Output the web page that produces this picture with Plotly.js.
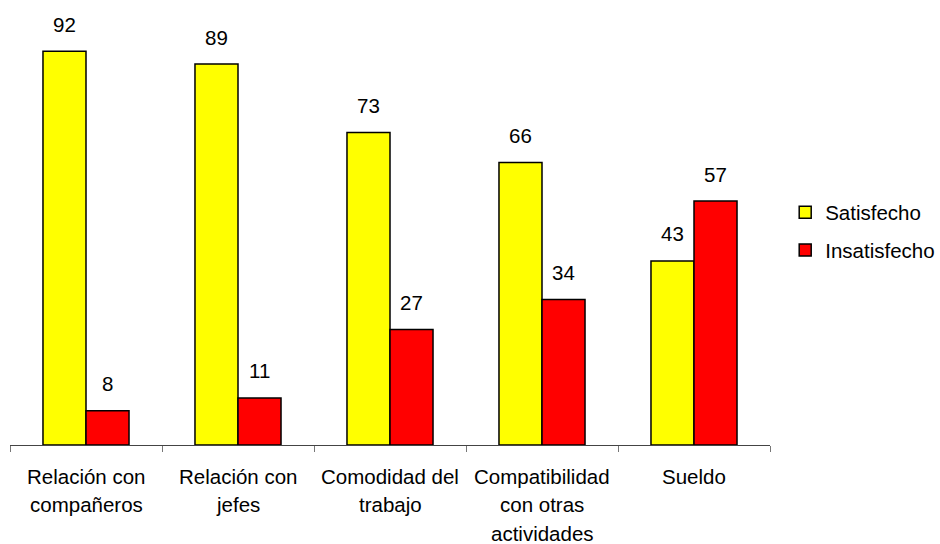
<!DOCTYPE html>
<html>
<head>
<meta charset="utf-8">
<script src="https://cdn.plot.ly/plotly-3.0.1.min.js"></script>
<style>
  html, body { margin: 0; padding: 0; background: #fff; }
  #chart { width: 940px; height: 544px; }
</style>
</head>
<body>
<div id="chart"></div>
<script>
// Satisfaction by job aspect (percent)
const categories = [
  "Relación con compañeros",
  "Relación con jefes",
  "Comodidad del trabajo",
  "Compatibilidad con otras actividades",
  "Sueldo"
];
// Category labels split into the lines they are printed on
const categoryLines = [
  ["Relación con", "compañeros"],
  ["Relación con", "jefes"],
  ["Comodidad del", "trabajo"],
  ["Compatibilidad", "con otras", "actividades"],
  ["Sueldo"]
];
const satisfecho = [92, 89, 73, 66, 43];
const insatisfecho = [8, 11, 27, 34, 57];
const seriesNames = ["Satisfecho", "Insatisfecho"];

const FONT = "Liberation Sans, Arial, sans-serif";
const SIZE = 20.5;

const barLine = { color: "#000000", width: 1.5 };

const traces = [
  {
    type: "bar", name: seriesNames[0], x: categories, y: satisfecho,
    marker: { color: "#FFFF00", line: barLine },
    legendgroup: "a", hoverinfo: "x+y"
  },
  {
    type: "bar", name: seriesNames[1], x: categories, y: insatisfecho,
    marker: { color: "#FF0000", line: barLine },
    legendgroup: "b", hoverinfo: "x+y"
  }
];

const annotations = [];
// value labels above each bar (bars are ~43px wide, shifted left/right of center)
[[satisfecho, -21.5], [insatisfecho, 21.5]].forEach(([vals, shift]) => {
  vals.forEach((v, i) => {
    annotations.push({
      x: categories[i], y: v, xref: "x", yref: "y",
      text: String(v), showarrow: false,
      xshift: shift, yshift: 27, yanchor: "middle",
      font: { family: FONT, size: SIZE, color: "#000" }
    });
  });
});
// category labels, one annotation per printed line
categoryLines.forEach((lines, i) => {
  lines.forEach((t, j) => {
    annotations.push({
      x: categories[i], y: 0, xref: "x", yref: "y",
      text: t, showarrow: false, yanchor: "middle",
      yshift: -31 - 28.5 * j,
      font: { family: FONT, size: SIZE, color: "#000" }
    });
  });
});

const layout = {
  width: 940, height: 544,
  margin: { l: 10, r: 170, t: 17, b: 99, autoexpand: false },
  paper_bgcolor: "#ffffff", plot_bgcolor: "#ffffff",
  font: { family: FONT, size: SIZE, color: "#000" },
  barmode: "group", bargap: 0.434, bargroupgap: 0,
  showlegend: true,
  legend: {
    x: 1.02, xanchor: "left", y: 0.59, yanchor: "top",
    traceorder: "grouped", tracegroupgap: 8,
    font: { family: FONT, size: SIZE, color: "#000" },
    bgcolor: "rgba(0,0,0,0)"
  },
  xaxis: {
    type: "category", showticklabels: false,
    showline: true, linecolor: "#444", linewidth: 1.2,
    ticks: "outside", tickson: "boundaries", ticklen: 6, tickcolor: "#777",
    showgrid: false, zeroline: false, fixedrange: true
  },
  yaxis: {
    range: [0, 100], visible: false, showgrid: false, zeroline: false, fixedrange: true
  },
  annotations: annotations
};

Plotly.newPlot("chart", traces, layout, { displayModeBar: false, staticPlot: true });
</script>
</body>
</html>
